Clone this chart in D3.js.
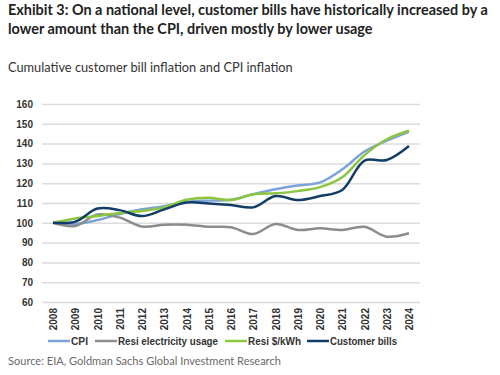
<!DOCTYPE html>
<html>
<head>
<meta charset="utf-8">
<script src="https://cdn.jsdelivr.net/npm/d3@7"></script>
<style>
  body { margin: 0; background: #fff; }
  svg { display: block; }
  .title { font-family: Lato, "Open Sans", sans-serif; font-weight: 700; fill: #222; }
  .subtitle { font-family: Lato, "Open Sans", sans-serif; fill: #333; }
  .source { font-family: Lato, "Open Sans", sans-serif; fill: #6a6a6a; }
  .tick text { font-family: "Liberation Sans", Arial, sans-serif; font-weight: 700; font-size: 10px; fill: #333; }
  .legend text { font-family: "Liberation Sans", Arial, sans-serif; font-weight: 700; font-size: 10.5px; fill: #333; }
</style>
</head>
<body>
<svg></svg>
<script>
const w = 500
const h = 375

const years = [2008, 2009, 2010, 2011, 2012, 2013, 2014, 2015, 2016, 2017, 2018, 2019, 2020, 2021, 2022, 2023, 2024]
const yTicks = [60, 70, 80, 90, 100, 110, 120, 130, 140, 150, 160]

const seriesNames = ['CPI', 'Resi electricity usage', 'Resi $/kWh', 'Customer bills']
const seriesColors = ['#7ba3d9', '#8c8c8c', '#8cc63f', '#123d67']

const cpi = [100, 99.4, 101.4, 104.4, 106.8, 108.4, 110.6, 111.2, 111.6, 114.4, 116.9, 118.8, 120.4, 127, 136, 141.5, 146]
const usage = [100, 98.4, 104.2, 102.6, 98.1, 99, 99, 98, 97.8, 94.3, 99.4, 96.4, 97.2, 96.4, 98, 93, 94.7]
const pricePerKwh = [100, 102.2, 103.4, 105, 106, 107.8, 111.6, 112.6, 111.5, 114.4, 114.9, 116, 118, 123, 134.2, 142.2, 146.5]
const bills = [100, 100.6, 107.2, 106.4, 103.4, 106.8, 110.2, 109.8, 109, 107.8, 113.5, 111.5, 113.5, 116.6, 131.4, 131.7, 138.8]

const seriesValues = [cpi, usage, pricePerKwh, bills]

const svg = d3.select('svg')
  .attr('width', w)
  .attr('height', h);

// pick a font size so the text's natural width matches the reference
const sizeToWidth = (sel, width) => {
  sel.style('font-size', '20px');
  const natural = sel.node().getComputedTextLength();
  sel.style('font-size', (20 * width / natural).toFixed(2) + 'px');
};

const titleLines = [
  'Exhibit 3: On a national level, customer bills have historically increased by a',
  'lower amount than the CPI, driven mostly by lower usage'
]
const t1 = svg.append('text')
  .attr('class', 'title')
  .attr('x', 8)
  .attr('y', 15)
  .text(titleLines[0])
  .call(sizeToWidth, 480);
svg.append('text')
  .attr('class', 'title')
  .attr('x', 8)
  .attr('y', 34)
  .style('font-size', t1.style('font-size'))
  .text(titleLines[1]);

svg.append('text')
  .attr('class', 'subtitle')
  .attr('x', 8)
  .attr('y', 72)
  .text('Cumulative customer bill inflation and CPI inflation')
  .call(sizeToWidth, 285);

// scales
const xScale = d3.scalePoint()
  .domain(years)
  .range([53, 409]);

const yScale = d3.scaleLinear()
  .domain([60, 160])
  .range([302, 104]);

// gridlines + y labels
const yAxis = d3.axisLeft(yScale)
  .tickValues(yTicks)
  .tickSize(-(420 - 42))
  .tickPadding(9);

const yAxisG = svg.append('g')
  .attr('transform', 'translate(42,0)')
  .call(yAxis);
yAxisG.select('.domain').remove();
yAxisG.selectAll('.tick line')
  .attr('stroke', '#dcdcdc')
  .attr('stroke-width', 1.5);

// x labels
const xAxis = d3.axisBottom(xScale)
  .tickSize(0)
  .tickFormat(d3.format('d'));

const xAxisG = svg.append('g')
  .attr('transform', 'translate(0,302)')
  .call(xAxis);
xAxisG.select('.domain').remove();
xAxisG.selectAll('.tick text')
  .attr('transform', 'rotate(-90)')
  .attr('text-anchor', 'end')
  .attr('x', -6)
  .attr('y', 0)
  .attr('dy', '0.35em');

// lines
const line = d3.line()
  .x((d, i) => xScale(years[i]))
  .y(d => yScale(d))
  .curve(d3.curveCatmullRom.alpha(0.5));

svg.append('g').selectAll('path')
  .data(seriesValues)
  .enter().append('path')
  .attr('fill', 'none')
  .attr('stroke', (d, i) => seriesColors[i])
  .attr('stroke-width', 2.5)
  .attr('d', line);

// legend
const legendX = [48, 95, 225, 307];
const legendTextW = [17, 100, 53, 67];
const legend = svg.append('g').attr('class', 'legend');
const items = legend.selectAll('g').data(seriesNames)
  .enter().append('g')
  .attr('transform', (d, i) => `translate(${legendX[i]},341)`);
items.append('line')
  .attr('x1', 0).attr('x2', 22)
  .attr('stroke', (d, i) => seriesColors[i])
  .attr('stroke-width', 2.5);
items.append('text')
  .attr('x', 23)
  .attr('dy', '0.35em')
  .text(d => d)
  .attr('textLength', (d, i) => legendTextW[i])
  .attr('lengthAdjust', 'spacingAndGlyphs');

svg.append('text')
  .attr('class', 'source')
  .attr('x', 8)
  .attr('y', 365)
  .text('Source: EIA, Goldman Sachs Global Investment Research')
  .call(sizeToWidth, 273);
</script>
</body>
</html>
